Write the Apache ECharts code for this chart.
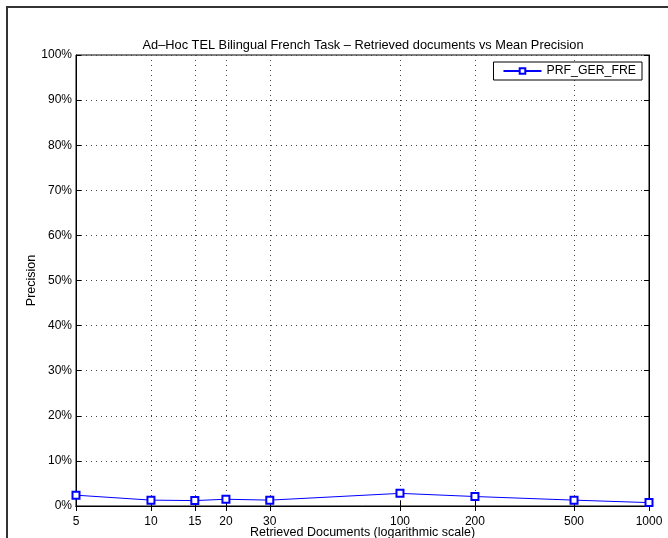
<!DOCTYPE html>
<html>
<head>
<meta charset="utf-8">
<script src="https://cdn.jsdelivr.net/npm/echarts@6/dist/echarts.min.js"></script>
<style>
html,body{margin:0;padding:0;background:#fff;}
#chart{width:668px;height:538px;}
</style>
</head>
<body>
<div id="chart"></div>
<script>
const retrievedDocs = [5, 10, 15, 20, 30, 100, 200, 500, 1000];
const precisionPct = [2.4, 1.3, 1.2, 1.5, 1.3, 2.8, 2.1, 1.3, 0.75];
const seriesName = 'PRF_GER_FRE';
const xTicks = [5, 10, 15, 20, 30, 100, 200, 500, 1000];

const FONT = 'Liberation Sans, Arial, Helvetica, sans-serif';
const chart = echarts.init(document.getElementById('chart'), null, {renderer: 'canvas'});

const gridLine = {show: true, lineStyle: {color: '#444', type: [1, 4], width: 1}};

const option = {
  backgroundColor: '#fff',
  animation: false,
  textStyle: {fontFamily: FONT},
  title: {
    text: 'Ad\u2013Hoc TEL Bilingual French Task \u2013 Retrieved documents vs Mean Precision',
    left: 358, top: 34, textAlign: 'center',
    textStyle: {fontFamily: FONT, fontSize: 12.8, fontWeight: 'normal', color: '#000'}
  },
  graphic: [{
    type: 'rect', silent: true, z: -1,
    shape: {x: 7, y: 7, width: 720, height: 600},
    style: {fill: 'none', stroke: '#333', lineWidth: 2}
  }],
  legend: {
    right: 26, top: 62,
    orient: 'vertical',
    backgroundColor: '#fff',
    borderColor: '#000', borderWidth: 1,
    padding: [3, 6, 3, 9],
    itemWidth: 38, itemHeight: 7, itemGap: 6,
    textStyle: {fontFamily: FONT, fontSize: 12.3, color: '#000'},
    data: [{name: seriesName}]
  },
  grid: {
    left: 76, right: 19, top: 55, bottom: 32,
    containLabel: false, outerBoundsMode: 'none',
    show: true, borderColor: '#000', borderWidth: 1
  },
  xAxis: [{
    type: 'log', logBase: 10, min: 5, max: 1000,
    name: 'Retrieved Documents (logarithmic scale)',
    nameLocation: 'middle', nameGap: 20, nameMoveOverlap: false,
    nameTextStyle: {fontFamily: FONT, fontSize: 12.5, color: '#000', verticalAlign: 'top'},
    axisLine: {show: true, lineStyle: {color: '#000', width: 1}},
    axisTick: {show: true, inside: true, length: 5, lineStyle: {color: '#000'}, customValues: xTicks},
    axisLabel: {show: true, color: '#000', fontSize: 12, fontFamily: FONT, margin: 10, customValues: xTicks,
      formatter: v => String(Math.round(v))},
    splitLine: gridLine,
    minorTick: {show: false}
  }, {
    type: 'log', logBase: 10, min: 5, max: 1000, position: 'top',
    axisLine: {show: true, lineStyle: {color: '#000', width: 1}},
    axisTick: {show: true, inside: true, length: 5, lineStyle: {color: '#000'}, customValues: xTicks},
    axisLabel: {show: false},
    splitLine: {show: false}
  }],
  yAxis: [{
    type: 'value', min: 0, max: 100, interval: 10,
    name: 'Precision', nameLocation: 'middle', nameGap: 38, nameRotate: 90, nameMoveOverlap: false,
    nameTextStyle: {fontFamily: FONT, fontSize: 12.5, color: '#000'},
    axisLine: {show: true, lineStyle: {color: '#000', width: 1}},
    axisTick: {show: true, inside: true, length: 5, lineStyle: {color: '#000'}},
    axisLabel: {show: true, color: '#000', fontSize: 12, fontFamily: FONT, margin: 4,
      formatter: v => v + '%'},
    splitLine: gridLine
  }, {
    type: 'value', min: 0, max: 100, interval: 10, position: 'right',
    axisLine: {show: true, lineStyle: {color: '#000', width: 1}},
    axisTick: {show: true, inside: true, length: 5, lineStyle: {color: '#000'}},
    axisLabel: {show: false},
    splitLine: {show: false}
  }],
  series: [{
    name: seriesName,
    type: 'line',
    xAxisIndex: 0, yAxisIndex: 0,
    data: retrievedDocs.map((d, i) => [d, precisionPct[i]]),
    symbol: 'emptyRect', symbolSize: 7,
    lineStyle: {color: '#0000ff', width: 1},
    itemStyle: {color: '#0000ff', borderColor: '#0000ff', borderWidth: 1},
    emphasis: {disabled: true}
  }]
};
chart.setOption(option);
</script>
</body>
</html>
